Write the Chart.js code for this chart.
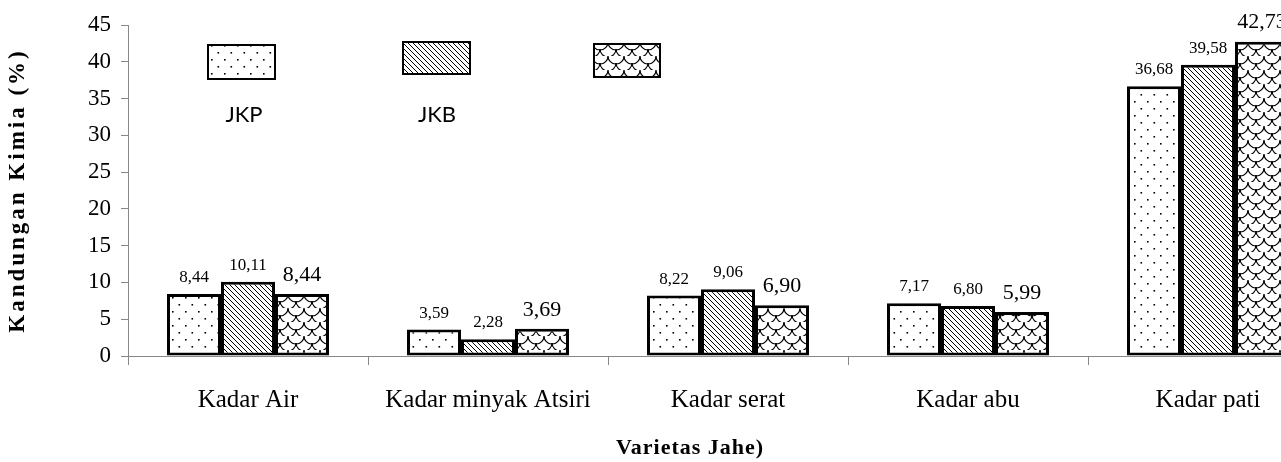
<!DOCTYPE html>
<html>
<head>
<meta charset="utf-8">
<script src="https://cdn.jsdelivr.net/npm/chart.js@4/dist/chart.umd.min.js"></script>
<style>
  html, body { margin: 0; padding: 0; background: #fff; overflow: hidden; }
  #wrap { width: 1281px; height: 462px; overflow: hidden; position: relative; }
  canvas { display: block; }
</style>
</head>
<body>
<div id="wrap"><canvas id="c" width="1340" height="462"></canvas></div>
<script>
const categories = ['Kadar Air', 'Kadar minyak Atsiri', 'Kadar serat', 'Kadar abu', 'Kadar pati'];
const seriesNames = ['JKP', 'JKB', ''];
const jkpValues = [8.44, 3.59, 8.22, 7.17, 36.68];
const jkbValues = [10.11, 2.28, 9.06, 6.80, 39.58];
const thirdValues = [8.44, 3.69, 6.90, 5.99, 42.73];
const yTitle = 'Kandungan Kimia (%)';
const xTitle = 'Varietas Jahe)';

function makeTile(w, h, draw) {
  const c = document.createElement('canvas');
  c.width = w; c.height = h;
  const g = c.getContext('2d');
  g.fillStyle = '#fff';
  g.fillRect(0, 0, w, h);
  draw(g);
  return document.createElement('canvas').getContext('2d').createPattern(c, 'repeat');
}
const dotPattern = makeTile(13, 14, g => {
  g.fillStyle = '#000';
  g.fillRect(3, 3, 1.6, 1.6);
  g.fillRect(9.5, 10, 1.6, 1.6);
});
const hatchPattern = makeTile(5, 5, g => {
  g.strokeStyle = '#000';
  g.lineWidth = 1;
  g.beginPath();
  g.moveTo(-1, -1); g.lineTo(6, 6);
  g.moveTo(-1, 4); g.lineTo(1, 6);
  g.moveTo(4, -1); g.lineTo(6, 1);
  g.stroke();
});
const scalePattern = makeTile(16, 14, g => {
  g.strokeStyle = '#000';
  g.lineWidth = 1.2;
  g.beginPath();
  g.arc(8, 0, 8, 0, Math.PI);
  g.stroke();
  g.beginPath();
  g.arc(0, 7, 8, 0, Math.PI);
  g.stroke();
  g.beginPath();
  g.arc(16, 7, 8, 0, Math.PI);
  g.stroke();
  g.beginPath();
  g.arc(8, 14, 8, Math.PI, 2 * Math.PI, true);
  g.stroke();
});
const patterns = [dotPattern, hatchPattern, scalePattern];

const legendBoxes = [
  { x: 208, y: 45, w: 67, h: 34, lx: 244, ly: 115 },
  { x: 403, y: 42, w: 67, h: 32, lx: 437, ly: 115 },
  { x: 594, y: 44, w: 66, h: 33, lx: 627, ly: 115 }
];

const customPlugin = {
  id: 'custom',
  afterDatasetsDraw(chart) {
    const ctx = chart.ctx;
    ctx.save();
    ctx.fillStyle = '#000';
    ctx.textAlign = 'center';
    ctx.textBaseline = 'bottom';
    chart.data.datasets.forEach((ds, di) => {
      const meta = chart.getDatasetMeta(di);
      ctx.font = (di === 2 ? '22px' : '17px') + ' "Liberation Serif", "Times New Roman", serif';
      meta.data.forEach((el, i) => {
        const txt = ds.data[i].toFixed(2).replace('.', ',');
        ctx.fillText(txt, el.x, el.y - 8);
      });
    });
    ctx.restore();
  },
  afterDraw(chart) {
    const ctx = chart.ctx;
    ctx.save();
    // legend
    chart.data.datasets.forEach((ds, di) => {
      const b = legendBoxes[di];
      ctx.fillStyle = ds.backgroundColor;
      ctx.fillRect(b.x, b.y, b.w, b.h);
      ctx.strokeStyle = '#000';
      ctx.lineWidth = 2;
      ctx.strokeRect(b.x, b.y, b.w, b.h);
      if (ds.label) {
        ctx.fillStyle = '#000';
        ctx.font = '22px Lato, "Open Sans", sans-serif';
        ctx.textAlign = 'center';
        ctx.textBaseline = 'middle';
        ctx.fillText(ds.label, b.lx, b.ly);
      }
    });
    // axis titles
    ctx.fillStyle = '#000';
    ctx.textAlign = 'center';
    ctx.textBaseline = 'middle';
    ctx.font = 'bold 22px "Liberation Serif", "Times New Roman", serif';
    ctx.letterSpacing = '1px';
    ctx.fillText(xTitle, 690, 448);
    ctx.translate(18, (chart.chartArea.top + chart.chartArea.bottom) / 2);
    ctx.rotate(-Math.PI / 2);
    ctx.font = 'bold 23px "Liberation Serif", "Times New Roman", serif';
    ctx.letterSpacing = '3px';
    ctx.fillText(yTitle, 0, 0);
    ctx.restore();
  }
};

const valueSets = [jkpValues, jkbValues, thirdValues];
new Chart(document.getElementById('c'), {
  type: 'bar',
  data: {
    labels: categories,
    datasets: valueSets.map((vals, i) => ({
      label: seriesNames[i],
      data: vals,
      backgroundColor: patterns[i],
      borderColor: '#000',
      borderWidth: 3,
      borderSkipped: false,
      categoryPercentage: 0.675,
      barPercentage: 1.0
    }))
  },
  options: {
    responsive: false,
    animation: false,
    devicePixelRatio: 1,
    layout: { padding: { top: 25, right: 12, left: 0, bottom: 0 } },
    plugins: { legend: { display: false }, tooltip: { enabled: false } },
    scales: {
      x: {
        grid: { offset: true, drawOnChartArea: false, tickLength: 9, color: '#888' },
        border: { color: '#888', width: 1 },
        ticks: {
          padding: 20,
          color: '#000',
          font: { family: '"Liberation Serif", "Times New Roman", serif', size: 25 },
          maxRotation: 0, autoSkip: false
        },
        afterFit(scale) { scale.height = 106; }
      },
      y: {
        min: 0, max: 45,
        grid: { drawOnChartArea: false, tickLength: 7, color: '#888' },
        border: { color: '#888', width: 1 },
        ticks: {
          stepSize: 5,
          padding: 10,
          color: '#000',
          font: { family: '"Liberation Serif", "Times New Roman", serif', size: 23 }
        },
        afterFit(scale) { scale.width = 128; }
      }
    }
  },
  plugins: [customPlugin]
});
</script>
</body>
</html>
